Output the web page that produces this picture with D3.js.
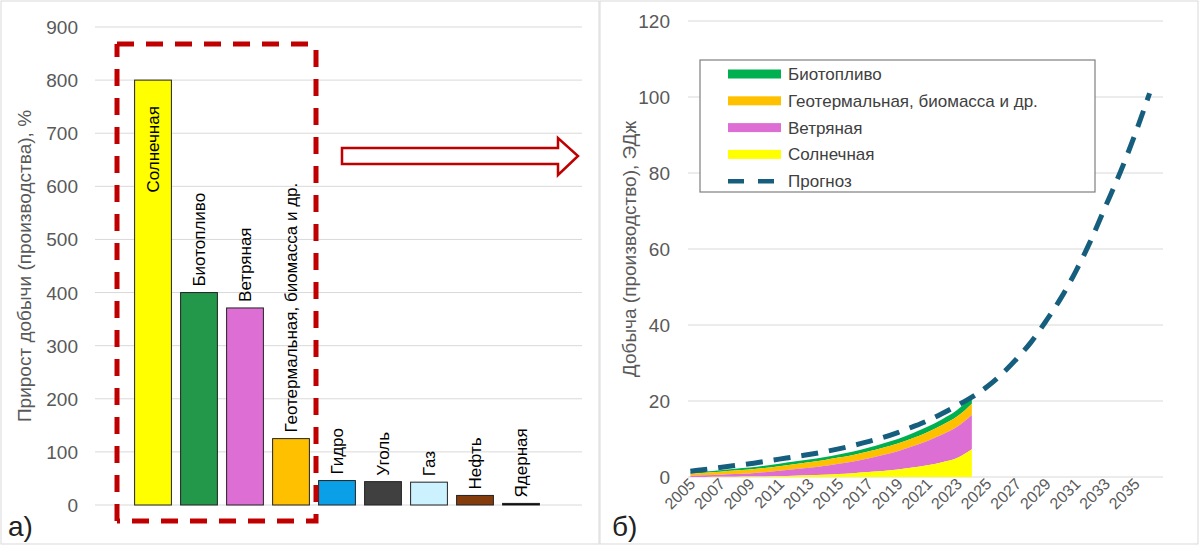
<!DOCTYPE html>
<html><head><meta charset="utf-8">
<script src="https://cdn.jsdelivr.net/npm/d3@7"></script>
<style>body{margin:0;background:#fff}text{font-family:"Liberation Sans",Arial,sans-serif}</style>
</head><body><svg id="c" width="1200" height="546"></svg>
<script>
const barCats=["Солнечная","Биотопливо","Ветряная","Геотермальная, биомасса и др.","Гидро","Уголь","Газ","Нефть","Ядерная"];
const barVals=[800,400,371,125,46,44,43,18,3];
const barColors=["#ffff00","#23984a","#dd6fd4","#ffc000","#0aa0e8","#404040","#ccf2ff","#843c0c","#000"];
const leftTicks=[0,100,200,300,400,500,600,700,800,900];

const years=d3.range(2005,2025);
const solar=[0.02,0.03,0.05,0.08,0.1,0.15,0.25,0.35,0.45,0.6,0.8,1.0,1.3,1.6,2.0,2.5,3.1,3.9,5.0,7.3];
const wind=[0.3,0.4,0.55,0.7,0.85,1.1,1.4,1.7,2.0,2.3,2.7,3.1,3.6,4.2,4.8,5.6,6.4,7.3,8.2,9.0];
const geo=[0.6,0.7,0.8,0.9,1.0,1.1,1.2,1.3,1.4,1.5,1.6,1.7,1.8,1.9,2.0,2.1,2.3,2.5,2.7,3.0];
const bio=[0.3,0.35,0.4,0.5,0.55,0.6,0.65,0.7,0.75,0.8,0.85,0.9,1.0,1.1,1.2,1.3,1.4,1.5,1.7,2.0];
const fYears=d3.range(2005,2037);
const forecast=[1.5,2.0,2.5,3.0,3.5,4.1,4.7,5.3,5.9,6.6,7.4,8.3,9.3,10.4,11.7,13.2,14.8,16.7,18.8,21,23.7,27,31,35.5,41,47,54,62,71,80,90,101];
const rightTicks=[0,20,40,60,80,100,120];
const yearLabels=d3.range(2005,2036,2);
const seriesNames=["Солнечная","Ветряная","Геотермальная, биомасса и др.","Биотопливо"];
const seriesColors=["#ffff00","#dd6fd4","#ffc000","#00b050"];

const svg=d3.select("#c");
svg.append("rect").attr("x",1).attr("y",1).attr("width",598).attr("height",543).attr("fill","none").attr("stroke","#d9d9d9");
svg.append("rect").attr("x",600).attr("y",1).attr("width",598).attr("height",543).attr("fill","none").attr("stroke","#d9d9d9");

// LEFT
const yL=d3.scaleLinear().domain([0,900]).range([505,27]);
const xL=d3.scaleBand().domain(barCats).range([130,544]).paddingInner(0.2).paddingOuter(0.1);
const gl=svg.append("g");
leftTicks.forEach(t=>{
 gl.append("line").attr("x1",95).attr("x2",582).attr("y1",yL(t)).attr("y2",yL(t)).attr("stroke","#d9d9d9");
 gl.append("text").attr("x",78).attr("y",yL(t)+7).attr("text-anchor","end").attr("font-size",19).attr("fill","#595959").text(t);
});
gl.append("text").attr("transform",`translate(31,${yL(450)}) rotate(-90)`).attr("text-anchor","middle").attr("font-size",19).attr("fill","#595959").text("Прирост добычи (производства), %");
barCats.forEach((c,i)=>{
 gl.append("rect").attr("x",xL(c)).attr("y",yL(barVals[i])).attr("width",xL.bandwidth()).attr("height",yL(0)-yL(barVals[i])).attr("fill",barColors[i]).attr("stroke","#222").attr("stroke-width",1);
 const cx=xL(c)+xL.bandwidth()/2+6;
 if(i===0) gl.append("text").attr("transform",`translate(${cx},${yL(barVals[i])+26}) rotate(-90)`).attr("text-anchor","end").attr("font-size",17).text(c);
 else gl.append("text").attr("transform",`translate(${cx},${yL(barVals[i])-6}) rotate(-90)`).attr("text-anchor","start").attr("font-size",17).text(c);
});
gl.append("path").attr("d","M117,44 H314 M316,50 V521 H117 M117,521 V44").attr("fill","none").attr("stroke","#c00000").attr("stroke-width",5).attr("stroke-dasharray","17,12");
gl.append("path").attr("d","M342,148 H558 V138 L578,156 L558,175 V164 H342 Z").attr("fill","#fff").attr("stroke","#c00000").attr("stroke-width",2.5);
gl.append("text").attr("x",8).attr("y",536).attr("font-size",28).attr("fill","#222").text("а)");

// RIGHT
const yR=d3.scaleLinear().domain([0,120]).range([477,21]);
const xR=d3.scaleLinear().domain([2004.5,2036.5]).range([683,1157]);
const gr=svg.append("g");
rightTicks.forEach(t=>{
 gr.append("line").attr("x1",688).attr("x2",1163).attr("y1",yR(t)).attr("y2",yR(t)).attr("stroke","#d9d9d9");
 gr.append("text").attr("x",670).attr("y",yR(t)+7).attr("text-anchor","end").attr("font-size",19).attr("fill","#595959").text(t);
});
gr.append("text").attr("transform",`translate(636,${yR(60)}) rotate(-90)`).attr("text-anchor","middle").attr("font-size",19).attr("fill","#595959").text("Добыча (производство), ЭДж");
yearLabels.forEach(y=>{
 gr.append("text").attr("transform",`translate(${xR(y)+6},${485}) rotate(-45)`).attr("text-anchor","end").attr("font-size",16).attr("fill","#595959").text(y);
});
const rows=years.map((y,i)=>({year:y,s0:solar[i],s1:wind[i],s2:geo[i],s3:bio[i]}));
const stack=d3.stack().keys(["s0","s1","s2","s3"])(rows);
const area=d3.area().x(d=>xR(d.data.year)).y0(d=>yR(d[0])).y1(d=>yR(d[1])).curve(d3.curveMonotoneX);
stack.slice().reverse().forEach(s=>{
 gr.append("path").attr("d",area(s)).attr("fill",seriesColors[s.index]);
});
const line=d3.line().x((d,i)=>xR(fYears[i])).y(d=>yR(d)).curve(d3.curveMonotoneX);
gr.append("path").attr("d",line(forecast)).attr("fill","none").attr("stroke","#155e7e").attr("stroke-width",5).attr("stroke-dasharray","17,11");
gr.append("text").attr("x",612).attr("y",536).attr("font-size",28).attr("fill","#222").text("б)");
// legend
const lg=gr.append("g");
lg.append("rect").attr("x",700).attr("y",60).attr("width",395).attr("height",132).attr("fill","#fff").attr("stroke","#7f7f7f").attr("stroke-width",1.2);
const legNames=[seriesNames[3],seriesNames[2],seriesNames[1],seriesNames[0],"Прогноз"];
const legCols=[seriesColors[3],seriesColors[2],seriesColors[1],seriesColors[0],"#155e7e"];
legNames.forEach((n,i)=>{
 const yy=74+i*26.8;
 if(i<4) lg.append("rect").attr("x",728).attr("y",yy-4.5).attr("width",53).attr("height",9).attr("fill",legCols[i]);
 else lg.append("line").attr("x1",728).attr("x2",781).attr("y1",yy).attr("y2",yy).attr("stroke",legCols[i]).attr("stroke-width",4.5).attr("stroke-dasharray","16,14");
 lg.append("text").attr("x",788).attr("y",yy+6).attr("font-size",17).attr("fill","#404040").text(n);
});
</script></body></html>
